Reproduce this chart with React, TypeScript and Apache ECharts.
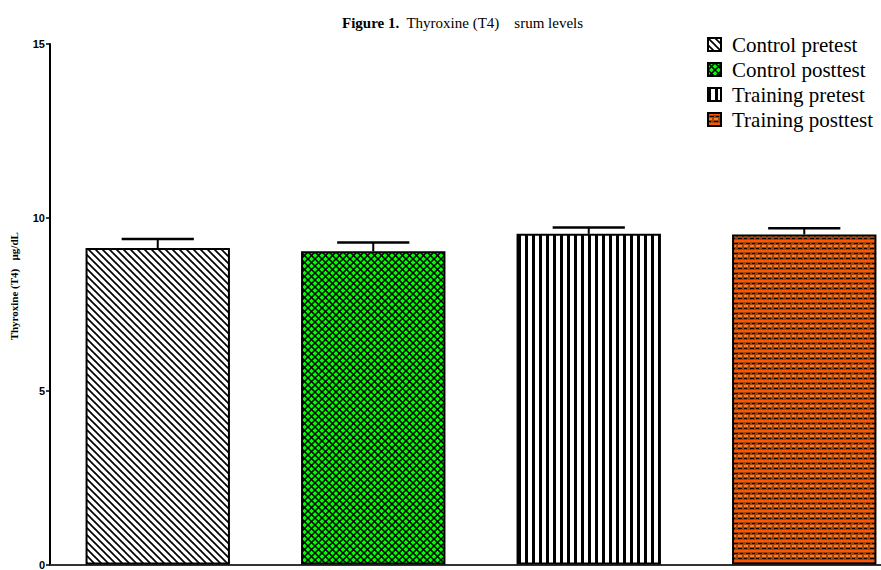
import React, { useEffect, useRef } from "react";
import * as echarts from "echarts";

const categories = ["Control pretest", "Control posttest", "Training pretest", "Training posttest"];
const means = [9.12, 9.03, 9.53, 9.51];
const sems = [0.26, 0.25, 0.18, 0.18];
const yTicks = [0, 5, 10, 15];

const SERIF = "'Liberation Serif', 'Times New Roman', serif";
const SANS = "'Liberation Sans', Arial, sans-serif";

function makeTile(w: number, h: number, draw: (c: CanvasRenderingContext2D) => void) {
  const cv = document.createElement("canvas");
  cv.width = w;
  cv.height = h;
  const ctx = cv.getContext("2d") as CanvasRenderingContext2D;
  draw(ctx);
  return { image: cv, repeat: "repeat", imageWidth: w, imageHeight: h } as any;
}

function diagonalPattern() {
  const s = 7;
  return makeTile(s, s, (c) => {
    c.fillStyle = "#ffffff";
    c.fillRect(0, 0, s, s);
    c.strokeStyle = "#000000";
    c.lineWidth = 1.7;
    for (const x of [-s, 0, s]) {
      c.beginPath();
      c.moveTo(x - 1, -1);
      c.lineTo(x + s + 1, s + 1);
      c.stroke();
    }
  });
}

function crossPattern() {
  const s = 7;
  return makeTile(s, s, (c) => {
    c.fillStyle = "#00ff00";
    c.fillRect(0, 0, s, s);
    c.strokeStyle = "#000000";
    c.lineWidth = 1.5;
    for (const x of [-s, 0, s]) {
      c.beginPath();
      c.moveTo(x - 1, -1);
      c.lineTo(x + s + 1, s + 1);
      c.stroke();
      c.beginPath();
      c.moveTo(x + s + 1, -1);
      c.lineTo(x - 1, s + 1);
      c.stroke();
    }
  });
}

function stripePattern() {
  return makeTile(7, 4, (c) => {
    c.fillStyle = "#ffffff";
    c.fillRect(0, 0, 7, 4);
    c.fillStyle = "#000000";
    c.fillRect(0, 0, 3, 4);
  });
}

function brickPattern() {
  return makeTile(12, 10, (c) => {
    c.fillStyle = "#a0440f";
    c.fillRect(0, 0, 12, 10);
    c.fillStyle = "#ff5500";
    c.fillRect(0, 0, 12, 2);
    c.fillStyle = "#000000";
    c.fillRect(2, 3, 4, 1);
    c.fillRect(8, 3, 3, 1);
    c.fillStyle = "#ff7a20";
    c.fillRect(0, 5, 4, 2);
    c.fillRect(6, 5, 4, 2);
    c.fillStyle = "#000000";
    c.fillRect(0, 8, 3, 1);
    c.fillRect(6, 8, 4, 1);
  });
}

export default function App() {
  const ref = useRef<HTMLDivElement>(null);

  useEffect(() => {
    if (!ref.current) return;
    const chart = echarts.init(ref.current, null, { renderer: "svg" });
    const patterns = [diagonalPattern(), crossPattern(), stripePattern(), brickPattern()];

    const barSeries = categories.map((name, i) => ({
      name,
      type: "bar",
      barWidth: "67%",
      barGap: "-100%",
      data: categories.map((_, j) => (j === i ? means[j] : null)),
      itemStyle: {
        color: patterns[i],
        borderColor: "#000000",
        borderWidth: 2,
      },
      z: 2,
    }));

    const errSeries = {
      type: "custom",
      name: "sem",
      z: 3,
      data: categories.map((_, i) => [i, means[i], sems[i]]),
      renderItem: (params: any, api: any) => {
        const idx = api.value(0);
        const m = api.value(1);
        const e = api.value(2);
        const base = api.coord([idx, m]);
        const top = api.coord([idx, m + e]);
        const half = (api.size([1, 0])[0] * 0.67) / 4;
        return {
          type: "group",
          children: [
            {
              type: "line",
              shape: { x1: base[0], y1: base[1], x2: top[0], y2: top[1] },
              style: { stroke: "#000000", lineWidth: 2 },
            },
            {
              type: "line",
              shape: { x1: top[0] - half, y1: top[1], x2: top[0] + half, y2: top[1] },
              style: { stroke: "#000000", lineWidth: 2.5 },
            },
          ],
        };
      },
    };

    chart.setOption({
      animation: false,
      backgroundColor: "#ffffff",
      title: {
        text: "{b|Figure 1.}  Thyroxine (T4)    srum levels",
        left: 337,
        top: 10,
        textStyle: {
          fontFamily: SERIF,
          fontSize: 15,
          fontWeight: "normal",
          color: "#000000",
          rich: {
            b: { fontFamily: SERIF, fontSize: 15, fontWeight: "bold", color: "#000000" },
          },
        },
      },
      legend: {
        data: categories,
        orient: "vertical",
        left: 702,
        top: 29,
        itemWidth: 13,
        itemHeight: 13,
        itemGap: 4,
        icon: "rect",
        textStyle: {
          fontFamily: SERIF,
          fontSize: 21,
          lineHeight: 21,
          color: "#000000",
          padding: [0, 0, 0, 6],
        },
        itemStyle: { borderColor: "#000000", borderWidth: 2 },
      },
      grid: { left: 50, top: 44, width: 862, height: 523, containLabel: false },
      xAxis: {
        type: "category",
        data: categories,
        axisLine: { show: true, lineStyle: { color: "#333333", width: 2 } },
        axisTick: { show: false },
        axisLabel: { show: false },
      },
      yAxis: {
        type: "value",
        min: yTicks[0],
        max: yTicks[yTicks.length - 1],
        interval: 5,
        name: "Thyroxine (T4)   \u00b5g/dL",
        nameLocation: "middle",
        nameGap: 31,
        nameTextStyle: {
          fontFamily: SERIF,
          fontSize: 11,
          fontWeight: "bold",
          color: "#000000",
          padding: [0, 0, 0, 36],
        },
        axisLine: { show: true, lineStyle: { color: "#000000", width: 2 } },
        axisTick: { show: true, length: 4, lineStyle: { color: "#000000", width: 1.5 } },
        axisLabel: { fontFamily: SANS, fontSize: 11, fontWeight: "bold", color: "#000000", margin: 5 },
        splitLine: { show: false },
      },
      series: [...barSeries, errSeries],
    } as any);

    return () => chart.dispose();
  }, []);

  return (
    <div
      style={{
        position: "fixed",
        left: 0,
        top: 0,
        width: 881,
        height: 570,
        overflow: "hidden",
        background: "#ffffff",
      }}
    >
      <div ref={ref} style={{ width: 930, height: 570 }} />
    </div>
  );
}
